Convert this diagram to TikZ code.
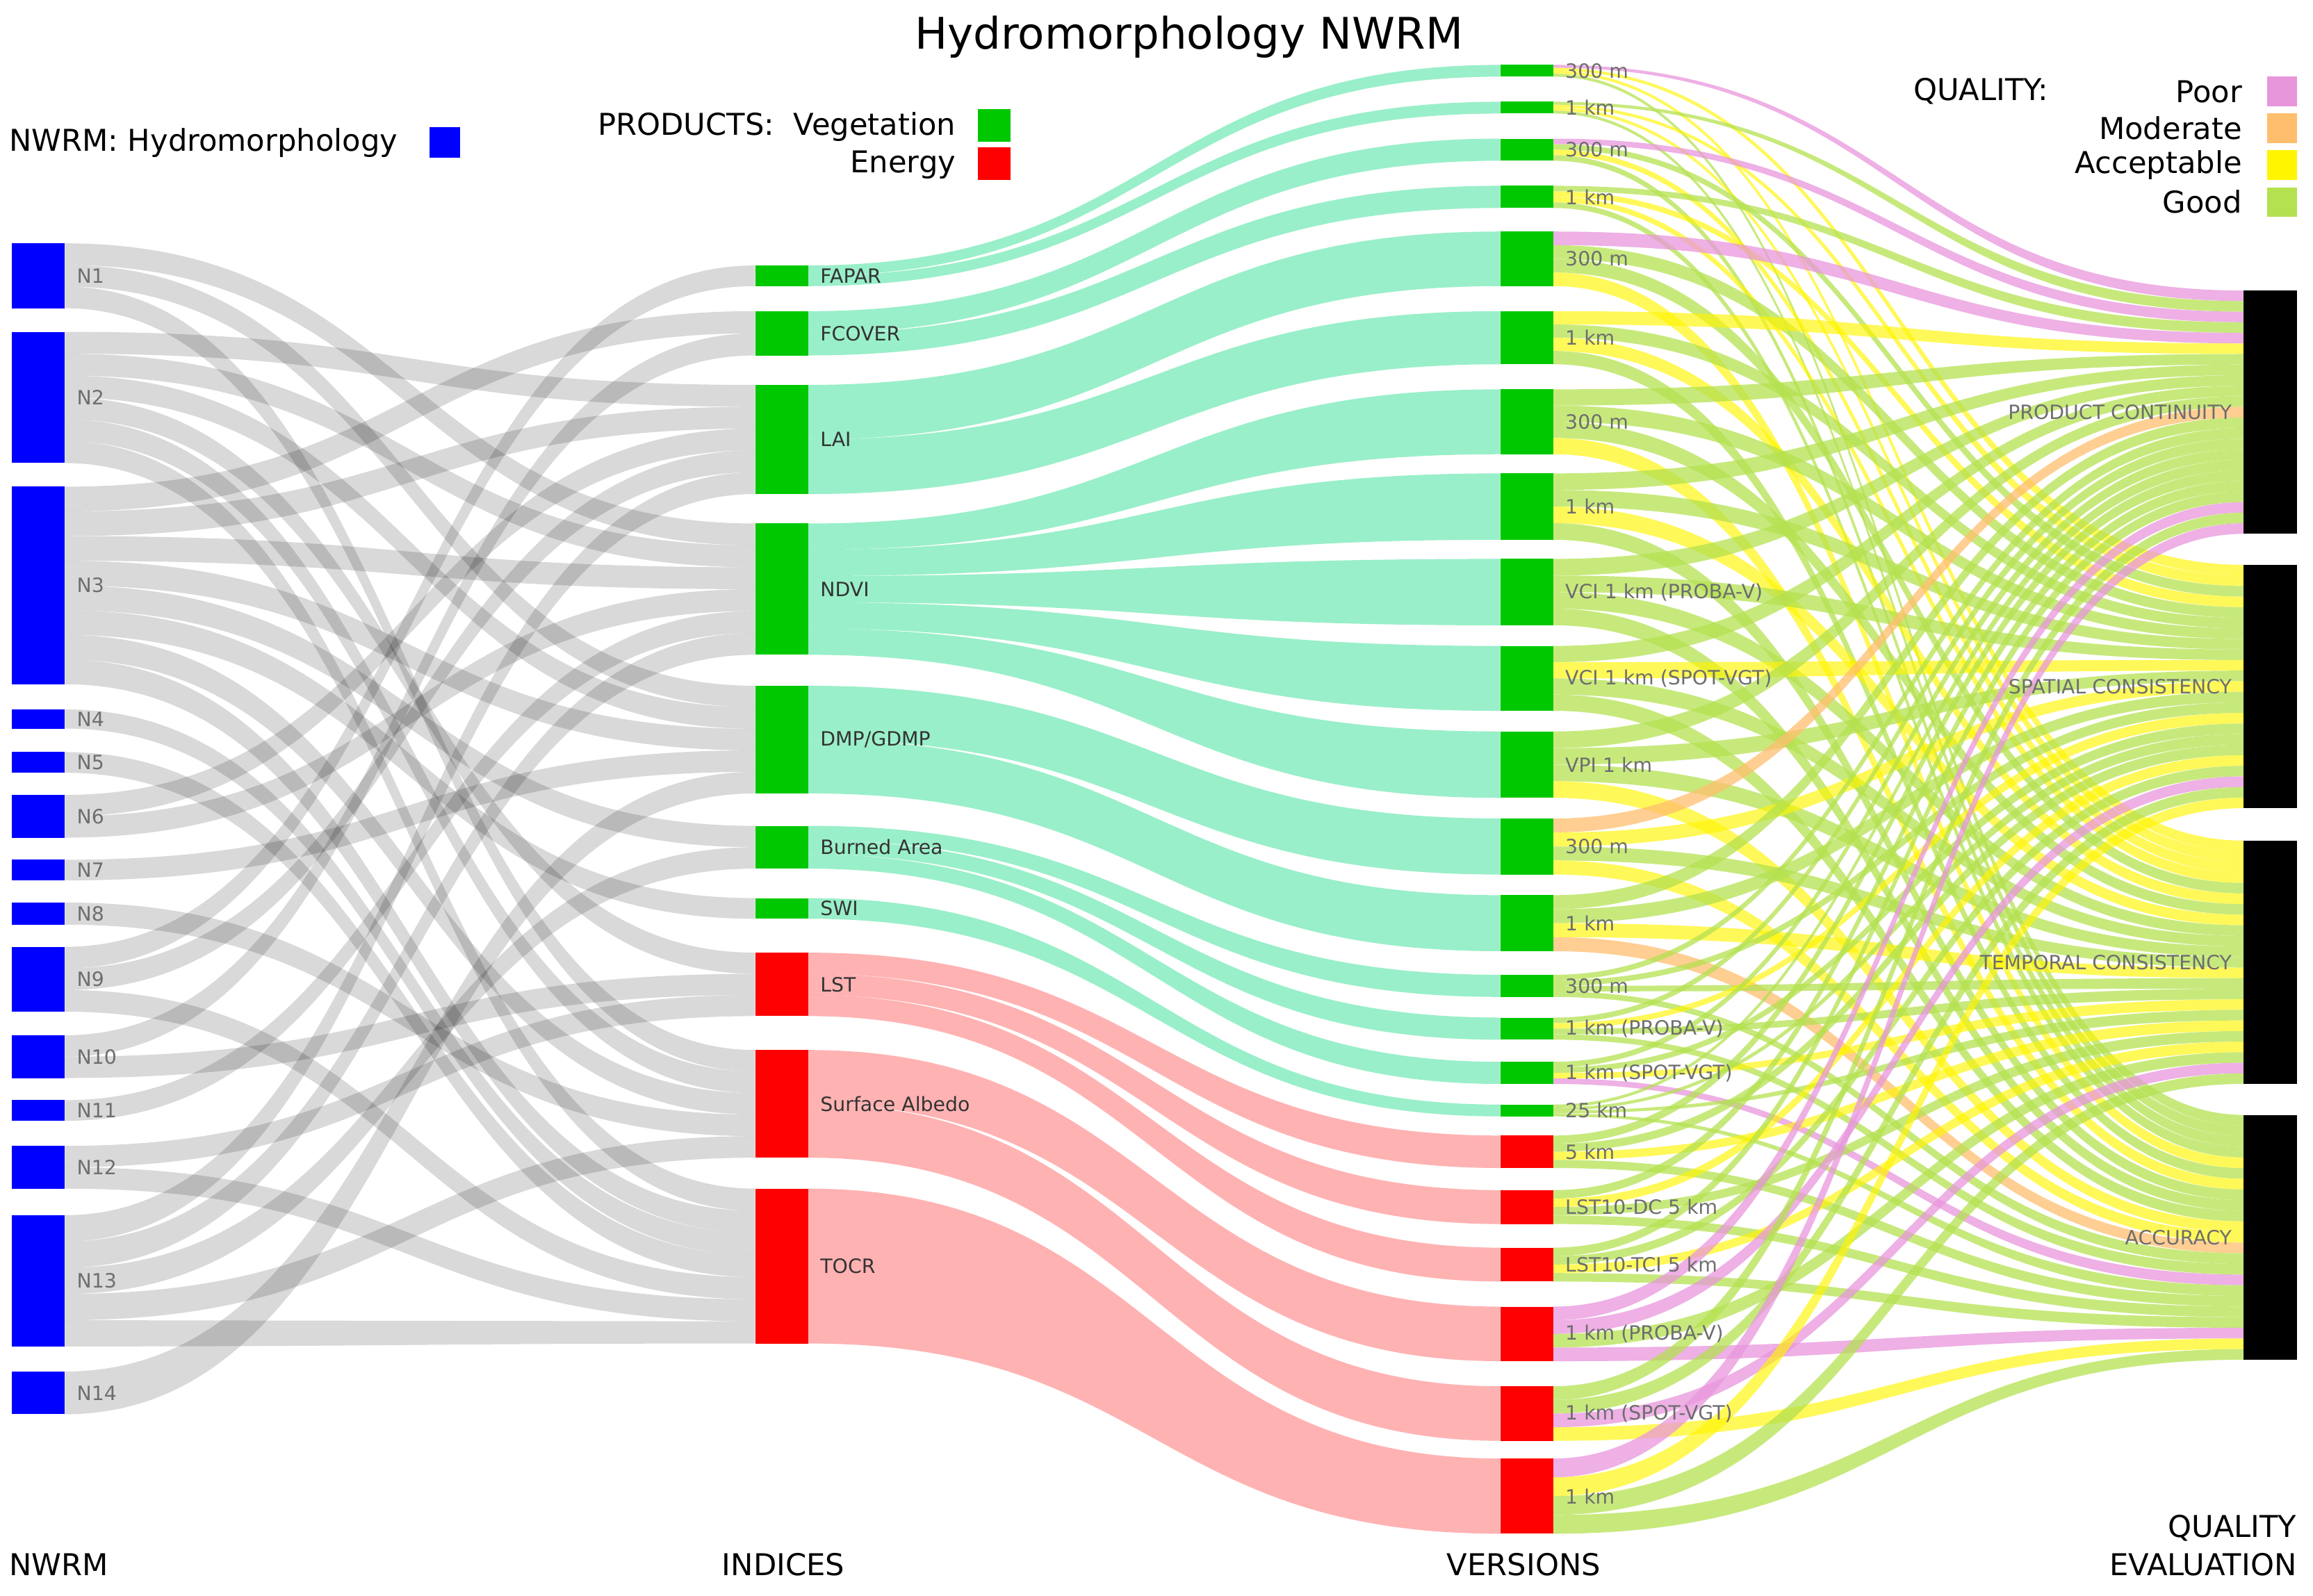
\documentclass[tikz,border=0pt]{standalone}
\usepackage{fontspec}
\setmainfont{DejaVu Sans}
\begin{document}
\definecolor{vegc}{RGB}{0,200,0}
\definecolor{engc}{RGB}{255,0,0}
\definecolor{nwc}{RGB}{0,0,255}
\definecolor{qPc}{RGB}{232,150,220}
\definecolor{qMc}{RGB}{255,190,110}
\definecolor{qAc}{RGB}{255,245,0}
\definecolor{qGc}{RGB}{180,225,80}
\definecolor{vlink}{RGB}{0,215,120}
\definecolor{lab}{RGB}{110,110,110}
\newcommand\defnode[5]{\expandafter\def\csname T#1\endcsname{#2}\expandafter\def\csname B#1\endcsname{#3}\expandafter\def\csname C#1\endcsname{#4}\expandafter\def\csname D#1\endcsname{#5}}
\newcommand\band[7]{\pgfmathsetmacro\xm{(#1+#4)/2}\fill[#7] (#1,#2) .. controls (\xm,#2) and (\xm,#5) .. (#4,#5) -- (#4,#6) .. controls (\xm,#6) and (\xm,#3) .. (#1,#3) -- cycle;}
\newcommand\lnk[7]{%
\edef\sT{\csname T#3\endcsname}\edef\sB{\csname B#3\endcsname}\edef\sC{\csname C#3\endcsname}%
\edef\tT{\csname T#5\endcsname}\edef\tB{\csname B#5\endcsname}\edef\tD{\csname D#5\endcsname}%
\pgfmathsetmacro\ua{(\sB-\sT)/\sC}\pgfmathsetmacro\sa{\sT+(#4)*\ua}\pgfmathsetmacro\sb{\sa+\ua}%
\pgfmathsetmacro\ub{(\tB-\tT)/\tD}\pgfmathsetmacro\ta{\tT+(#6)*\ub}\pgfmathsetmacro\tb{\ta+\ub}%
\band{#1}{\sa}{\sb}{#2}{\ta}{\tb}{#7}}
\newcommand\qrow[5]{\lnk{1053}{1521}{V#1}{0}{PC}{#1-1}{q#2}\lnk{1053}{1521}{V#1}{1}{SC}{#1-1}{q#3}\lnk{1053}{1521}{V#1}{2}{TC}{#1-1}{q#4}\lnk{1053}{1521}{V#1}{3}{AC}{#1-1}{q#5}}
\begin{tikzpicture}[x=0.05cm,y=-0.05cm,
 gl/.style={fill=black,opacity=0.15},
 vl/.style={fill=vlink,opacity=0.4},
 el/.style={fill=engc,opacity=0.3},
 qP/.style={fill=qPc,opacity=0.75},qM/.style={fill=qMc,opacity=0.75},
 qA/.style={fill=qAc,opacity=0.65},qG/.style={fill=qGc,opacity=0.75},
 nl/.style={font=\fontsize{19}{19}\selectfont,text=lab,anchor=west,inner sep=0},
 il/.style={font=\fontsize{19}{19}\selectfont,text=black!80,anchor=west,inner sep=0},
 big/.style={font=\fontsize{29}{29}\selectfont,inner sep=0}]
\useasboundingbox (0,0) rectangle (1568,1082);
% node data
\defnode{N1}{165}{209}{3}{1}\defnode{N2}{225}{314}{6}{1}\defnode{N3}{330}{464}{8}{1}
\defnode{N4}{481}{494}{1}{1}\defnode{N5}{510}{524}{1}{1}\defnode{N6}{539}{568}{2}{1}
\defnode{N7}{583}{597}{1}{1}\defnode{N8}{612}{627}{1}{1}\defnode{N9}{642}{686}{3}{1}
\defnode{N10}{702}{731}{2}{1}\defnode{N11}{746}{760}{1}{1}\defnode{N12}{777}{806}{2}{1}
\defnode{N13}{824}{913}{5}{1}\defnode{N14}{930}{959}{1}{1}
\defnode{FAPAR}{180}{194}{2}{1}\defnode{FCOVER}{211}{241}{2}{2}\defnode{LAI}{261}{335}{2}{5}
\defnode{NDVI}{355}{444}{5}{6}\defnode{DMP}{465}{538}{2}{5}\defnode{BUR}{560}{589}{3}{2}
\defnode{SWI}{609}{623}{1}{1}\defnode{LST}{646}{689}{3}{3}\defnode{ALB}{712}{785}{2}{5}
\defnode{TOCR}{806}{911}{1}{7}
\defnode{V1}{44}{52}{4}{1}\defnode{V2}{69}{77}{4}{1}\defnode{V3}{94}{109}{4}{1}
\defnode{V4}{126}{141}{4}{1}\defnode{V5}{157}{194}{4}{1}\defnode{V6}{211}{247}{4}{1}
\defnode{V7}{264}{308}{4}{1}\defnode{V8}{321}{366}{4}{1}\defnode{V9}{379}{424}{4}{1}
\defnode{V10}{438}{482}{4}{1}\defnode{V11}{496}{541}{4}{1}\defnode{V12}{555}{593}{4}{1}
\defnode{V13}{607}{645}{4}{1}\defnode{V14}{661}{676}{4}{1}\defnode{V15}{690}{705}{4}{1}
\defnode{V16}{720}{735}{4}{1}\defnode{V17}{749}{757}{4}{1}\defnode{V18}{770}{792}{4}{1}
\defnode{V19}{807}{830}{4}{1}\defnode{V20}{846}{869}{4}{1}\defnode{V21}{886}{923}{4}{1}
\defnode{V22}{940}{977}{4}{1}\defnode{V23}{989}{1040}{4}{1}
\defnode{PC}{197}{362}{1}{23}\defnode{SC}{383}{548}{1}{23}\defnode{TC}{570}{735}{1}{23}\defnode{AC}{756}{922}{1}{23}
% gray links
\foreach \s/\a/\t/\b in {N1/0/NDVI/0,N1/1/DMP/0,N1/2/ALB/0,
 N2/0/LAI/0,N2/1/NDVI/1,N2/2/DMP/1,N2/3/LST/0,N2/4/ALB/1,N2/5/TOCR/0,
 N3/0/FCOVER/0,N3/1/LAI/1,N3/2/NDVI/2,N3/3/DMP/2,N3/4/BUR/0,N3/5/SWI/0,N3/6/ALB/2,N3/7/TOCR/1,
 N4/0/TOCR/2,N5/0/TOCR/3,N6/0/LAI/2,N6/1/NDVI/3,N7/0/DMP/3,N8/0/ALB/3,
 N9/0/FAPAR/0,N9/1/LAI/3,N9/2/TOCR/4,N10/0/FCOVER/1,N10/1/LST/1,N11/0/NDVI/4,
 N12/0/LST/2,N12/1/TOCR/5,N13/0/LAI/4,N13/1/NDVI/5,N13/2/BUR/1,N13/3/ALB/4,N13/4/TOCR/6,N14/0/DMP/4}
 {\lnk{44}{512}{\s}{\a}{\t}{\b}{gl}}
% index -> version
\foreach \s/\a/\t in {FAPAR/0/V1,FAPAR/1/V2,FCOVER/0/V3,FCOVER/1/V4,LAI/0/V5,LAI/1/V6,
 NDVI/0/V7,NDVI/1/V8,NDVI/2/V9,NDVI/3/V10,NDVI/4/V11,DMP/0/V12,DMP/1/V13,
 BUR/0/V14,BUR/1/V15,BUR/2/V16,SWI/0/V17}
 {\lnk{548}{1017}{\s}{\a}{\t}{0}{vl}}
\foreach \s/\a/\t in {LST/0/V18,LST/1/V19,LST/2/V20,ALB/0/V21,ALB/1/V22,TOCR/0/V23}
 {\lnk{548}{1017}{\s}{\a}{\t}{0}{el}}
% version -> quality
\qrow{1}{P}{A}{A}{G}\qrow{2}{G}{A}{A}{G}\qrow{3}{P}{G}{A}{G}\qrow{4}{G}{A}{A}{G}
\qrow{5}{P}{G}{G}{A}\qrow{6}{A}{G}{A}{G}\qrow{7}{G}{G}{G}{A}\qrow{8}{G}{G}{A}{G}
\qrow{9}{G}{G}{G}{G}\qrow{10}{G}{A}{G}{G}\qrow{11}{G}{G}{G}{A}\qrow{12}{M}{A}{G}{A}
\qrow{13}{G}{G}{A}{M}\qrow{14}{G}{G}{G}{G}\qrow{15}{G}{A}{G}{G}\qrow{16}{G}{G}{A}{P}
\qrow{17}{G}{G}{G}{G}\qrow{18}{G}{G}{A}{G}\qrow{19}{G}{A}{G}{G}\qrow{20}{G}{G}{A}{G}
\qrow{21}{P}{P}{G}{P}\qrow{22}{G}{G}{P}{A}\qrow{23}{P}{A}{G}{G}
% NWRM nodes
\foreach \n/\t/\b in {1/165/209,2/225/314,3/330/464,4/481/494,5/510/524,6/539/568,7/583/597,8/612/627,9/642/686,10/702/731,11/746/760,12/777/806,13/824/913,14/930/959}
 {\fill[nwc] (8,\t) rectangle (44,\b);
  \node[nl] (n\n) at (52,{(\t+\b)/2}) {N\n};}
% index nodes
\foreach \nm/\t/\b/\c/\txt in {FAPAR/180/194/vegc/FAPAR,FCOVER/211/241/vegc/FCOVER,LAI/261/335/vegc/LAI,NDVI/355/444/vegc/NDVI,DMP/465/538/vegc/DMP\slash GDMP,BUR/560/589/vegc/Burned Area,SWI/609/623/vegc/SWI,LST/646/689/engc/LST,ALB/712/785/engc/Surface Albedo,TOCR/806/911/engc/TOCR}
 {\fill[\c] (512,\t) rectangle (548,\b);
  \node[il] (i\nm) at (556,{(\t+\b)/2}) {\txt};}
% version nodes
\foreach \n/\t/\b/\c/\txt in {1/44/52/vegc/300 m,2/69/77/vegc/1 km,3/94/109/vegc/300 m,4/126/141/vegc/1 km,5/157/194/vegc/300 m,6/211/247/vegc/1 km,7/264/308/vegc/300 m,8/321/366/vegc/1 km,9/379/424/vegc/VCI 1 km (PROBA-V),10/438/482/vegc/VCI 1 km (SPOT-VGT),11/496/541/vegc/VPI 1 km,12/555/593/vegc/300 m,13/607/645/vegc/1 km,14/661/676/vegc/300 m,15/690/705/vegc/1 km (PROBA-V),16/720/735/vegc/1 km (SPOT-VGT),17/749/757/vegc/25 km,18/770/792/engc/5 km,19/807/830/engc/LST10-DC 5 km,20/846/869/engc/LST10-TCI 5 km,21/886/923/engc/1 km (PROBA-V),22/940/977/engc/1 km (SPOT-VGT),23/989/1040/engc/1 km}
 {\fill[\c] (1017,\t) rectangle (1053,\b);
  \node[nl] (v\n) at (1061,{(\t+\b)/2}) {\txt};}
% quality nodes
\foreach \nm/\t/\b/\txt in {PC/197/362/PRODUCT CONTINUITY,SC/383/548/SPATIAL CONSISTENCY,TC/570/735/TEMPORAL CONSISTENCY,AC/756/922/ACCURACY}
 {\fill[black] (1521,\t) rectangle (1557,\b);
  \node[nl,anchor=east] (q\nm) at (1513,{(\t+\b)/2}) {\txt};}
% title and legends
\node[font=\fontsize{42}{42}\selectfont,inner sep=0] (title) at (806,25) {Hydromorphology NWRM};
\node[big,anchor=west] (lnw) at (6,97) {NWRM: Hydromorphology};
\fill[nwc] (291,86) rectangle (312,107);
\node[big,anchor=east] (lveg) at (648,86) {PRODUCTS:\ \ Vegetation};
\fill[vegc] (663,74) rectangle (685,96);
\node[big,anchor=east] (leng) at (648,112) {Energy};
\fill[engc] (663,100) rectangle (685,122);
\node[big,anchor=west] (lq) at (1297,62) {QUALITY:};
\foreach \y/\c/\txt in {62/qPc/Poor,87/qMc/Moderate,112/qAc/Acceptable,137/qGc/Good}
 {\node[big,anchor=east] at (1520,\y) {\txt};
  \fill[\c] (1537,\y-10) rectangle (1557,\y+10);}
\node[big,anchor=west] (bn) at (6,1061) {NWRM};
\node[big] (bi) at (531,1061) {INDICES};
\node[big] (bv) at (1033,1061) {VERSIONS};
\node[big,anchor=east] (bq1) at (1557,1036) {QUALITY};
\node[big,anchor=east] (bq2) at (1557,1061) {EVALUATION};
\end{tikzpicture}
\end{document}
